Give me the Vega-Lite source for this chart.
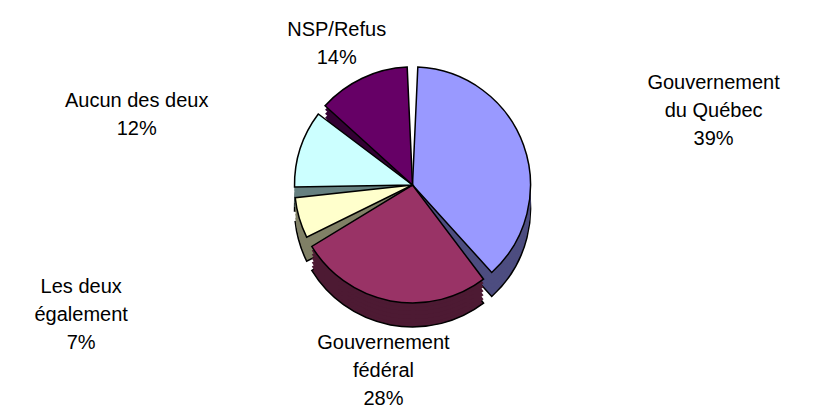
{
  "$schema": "https://vega.github.io/schema/vega-lite/v6.json",
  "width": 825,
  "height": 409,
  "autosize": {"type": "fit", "contains": "padding"},
  "padding": 0,
  "background": "white",
  "config": {"view": {"stroke": null}},
  "data": {
    "values": [
      {"cat": "Gouvernement du Québec", "label": "Gouvernement\ndu Québec\n39%", "pct": 39, "ord": 1},
      {"cat": "Gouvernement fédéral", "label": "Gouvernement\nfédéral\n28%", "pct": 28, "ord": 2},
      {"cat": "Les deux également", "label": "Les deux\négalement\n7%", "pct": 7, "ord": 3},
      {"cat": "Aucun des deux", "label": "Aucun des deux\n12%", "pct": 12, "ord": 4},
      {"cat": "NSP/Refus", "label": "NSP/Refus\n14%", "pct": 14, "ord": 5}
    ]
  },
  "encoding": {
    "theta": {"field": "pct", "type": "quantitative", "stack": true},
    "order": {"field": "ord", "type": "quantitative"}
  },
  "layer": [
    {
      "mark": {"type": "arc", "radius": 118, "padAngle": 0.09, "yOffset": 8, "stroke": "#000000", "strokeWidth": 1.5},
      "encoding": {"color": {"field": "cat", "type": "nominal", "legend": null,
        "scale": {"domain": ["Gouvernement du Québec", "Gouvernement fédéral", "Les deux également", "Aucun des deux", "NSP/Refus"],
                  "range": ["#4D4D80", "#4D1A33", "#808066", "#668080", "#330033"]}}}
    },
    {
      "mark": {"type": "arc", "radius": 118, "padAngle": 0.09, "yOffset": 4},
      "encoding": {"color": {"field": "cat", "type": "nominal", "legend": null,
        "scale": {"domain": ["Gouvernement du Québec", "Gouvernement fédéral", "Les deux également", "Aucun des deux", "NSP/Refus"],
                  "range": ["#4D4D80", "#4D1A33", "#808066", "#668080", "#330033"]}}}
    },
    {
      "mark": {"type": "arc", "radius": 118, "padAngle": 0.09, "yOffset": 0},
      "encoding": {"color": {"field": "cat", "type": "nominal", "legend": null,
        "scale": {"domain": ["Gouvernement du Québec", "Gouvernement fédéral", "Les deux également", "Aucun des deux", "NSP/Refus"],
                  "range": ["#4D4D80", "#4D1A33", "#808066", "#668080", "#330033"]}}}
    },
    {
      "mark": {"type": "arc", "radius": 118, "padAngle": 0.09, "yOffset": -4},
      "encoding": {"color": {"field": "cat", "type": "nominal", "legend": null,
        "scale": {"domain": ["Gouvernement du Québec", "Gouvernement fédéral", "Les deux également", "Aucun des deux", "NSP/Refus"],
                  "range": ["#4D4D80", "#4D1A33", "#808066", "#668080", "#330033"]}}}
    },
    {
      "mark": {"type": "arc", "radius": 118, "padAngle": 0.09, "yOffset": -8},
      "encoding": {"color": {"field": "cat", "type": "nominal", "legend": null,
        "scale": {"domain": ["Gouvernement du Québec", "Gouvernement fédéral", "Les deux également", "Aucun des deux", "NSP/Refus"],
                  "range": ["#4D4D80", "#4D1A33", "#808066", "#668080", "#330033"]}}}
    },
    {
      "mark": {"type": "arc", "radius": 118, "padAngle": 0.09, "yOffset": -12},
      "encoding": {"color": {"field": "cat", "type": "nominal", "legend": null,
        "scale": {"domain": ["Gouvernement du Québec", "Gouvernement fédéral", "Les deux également", "Aucun des deux", "NSP/Refus"],
                  "range": ["#4D4D80", "#4D1A33", "#808066", "#668080", "#330033"]}}}
    },
    {
      "mark": {"type": "arc", "radius": 118, "padAngle": 0.09, "yOffset": -16, "stroke": "#000000", "strokeWidth": 1.5},
      "encoding": {"color": {"field": "cat", "type": "nominal", "legend": null,
        "scale": {"domain": ["Gouvernement du Québec", "Gouvernement fédéral", "Les deux également", "Aucun des deux", "NSP/Refus"],
                  "range": ["#9999FF", "#993366", "#FFFFCC", "#CCFFFF", "#660066"]}}}
    },
    {
      "mark": {"type": "text", "radius": 320, "yOffset": -10, "lineBreak": "\n", "font": "Liberation Sans", "fontSize": 20, "lineHeight": 28, "color": "#000000", "align": "center", "baseline": "middle"},
      "encoding": {"text": {"condition": {"test": "datum.cat === 'Gouvernement du Québec'", "field": "label"}, "value": ""}}
    },
    {
      "mark": {"type": "text", "radius": 155, "yOffset": -10, "lineBreak": "\n", "font": "Liberation Sans", "fontSize": 20, "lineHeight": 28, "color": "#000000", "align": "center", "baseline": "middle"},
      "encoding": {"text": {"condition": {"test": "datum.cat === 'Gouvernement fédéral'", "field": "label"}, "value": ""}}
    },
    {
      "mark": {"type": "text", "radius": 345, "yOffset": -10, "lineBreak": "\n", "font": "Liberation Sans", "fontSize": 20, "lineHeight": 28, "color": "#000000", "align": "center", "baseline": "middle"},
      "encoding": {"text": {"condition": {"test": "datum.cat === 'Les deux également'", "field": "label"}, "value": ""}}
    },
    {
      "mark": {"type": "text", "radius": 290, "yOffset": -10, "lineBreak": "\n", "font": "Liberation Sans", "fontSize": 20, "lineHeight": 28, "color": "#000000", "align": "center", "baseline": "middle"},
      "encoding": {"text": {"condition": {"test": "datum.cat === 'Aucun des deux'", "field": "label"}, "value": ""}}
    },
    {
      "mark": {"type": "text", "radius": 178, "yOffset": -10, "lineBreak": "\n", "font": "Liberation Sans", "fontSize": 20, "lineHeight": 28, "color": "#000000", "align": "center", "baseline": "middle"},
      "encoding": {"text": {"condition": {"test": "datum.cat === 'NSP/Refus'", "field": "label"}, "value": ""}}
    }
  ],
  "resolve": {"scale": {"color": "independent"}}
}
